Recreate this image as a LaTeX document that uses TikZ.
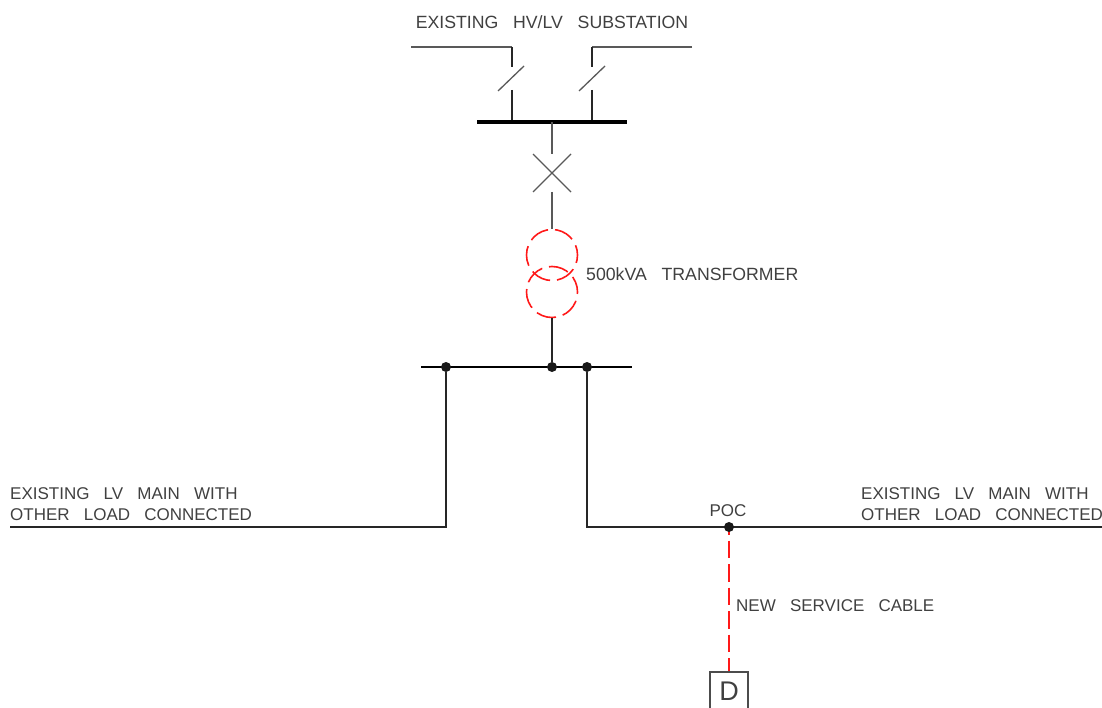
\documentclass[tikz,border=0pt]{standalone}
\usepackage{fontspec}
\setmainfont[WordSpace=3]{Liberation Sans}
\begin{document}
\begin{tikzpicture}[
    x=1pt, y=-1pt,
    wire/.style={draw=black!85, line width=1.5pt},
    blade/.style={draw=black!65, line width=1.3pt},
    newpart/.style={draw=red!90, line width=1.6pt},
    winding/.style={newpart, circle, minimum size=51pt, inner sep=0pt},
    joint/.style={circle, fill=black!90, inner sep=0pt, minimum size=10pt},
    lab/.style={inner sep=0pt, text=black!75, font=\fontsize{17}{17}\selectfont},
    widelab/.style={lab, font=\fontsize{17.7}{17.7}\selectfont}
]
\useasboundingbox (0,0) rectangle (1102,708);
% substation
\node[widelab] (sublabel) at (552,22) {EXISTING HV/LV SUBSTATION};
\coordinate (feedl) at (411,47);
\coordinate (feedlc) at (512,47);
\coordinate (swltop) at (512,67);
\coordinate (swlbot) at (512,90);
\coordinate (busl) at (512,122);
\coordinate (feedr) at (692,47);
\coordinate (feedrc) at (592,47);
\coordinate (swrtop) at (592,67);
\coordinate (swrbot) at (592,90);
\coordinate (busr) at (592,122);
\draw[blade] (feedl) -- (feedlc);
\draw[wire] (feedlc) -- (swltop);
\draw[wire] (swlbot) -- (busl);
\draw[blade] (feedr) -- (feedrc);
\draw[wire] (feedrc) -- (swrtop);
\draw[wire] (swrbot) -- (busr);
\draw[blade] (498,91) -- (524,66);
\draw[blade] (579,91) -- (605,66);
\coordinate (hvbusa) at (477,122);
\coordinate (hvbusb) at (627,122);
\draw[draw=black, line width=4pt] (hvbusa) -- (hvbusb);
% breaker
\coordinate (hvtap) at (552,122);
\coordinate (cbtop) at (552,154);
\coordinate (cbbot) at (552,192);
\draw[blade] (hvtap) -- (cbtop);
\draw[blade] (533,154) -- (571,192);
\draw[blade] (571,154) -- (533,192);
% transformer
\node[winding, dash pattern=on 20pt off 7pt, dash phase=10pt] (txup) at (552,255) {};
\node[winding, dash pattern=on 20pt off 7pt, dash phase=4pt] (txlow) at (552,292) {};
\draw[blade] (cbbot) -- (txup.north);
\node[widelab, anchor=west] (txlabel) at (586,274) {500kVA TRANSFORMER};
% LV board
\coordinate (lvbusa) at (421,367);
\coordinate (lvbusb) at (632,367);
\draw[draw=black, line width=2.2pt] (lvbusa) -- (lvbusb);
\node[joint] (jl) at (446,367) {};
\node[joint] (jm) at (552,367) {};
\node[joint] (jr) at (587,367) {};
\draw[wire] (txlow.south) -- (jm);
% LV mains
\coordinate (mainl) at (10,527);
\coordinate (mainr) at (1102,527);
\draw[wire] (jl) |- (mainl);
\draw[wire] (jr) |- (mainr);
\node[lab, anchor=west] (mainla) at (10,494) {EXISTING LV MAIN WITH};
\node[lab, anchor=west] (mainlb) at (10,515) {OTHER LOAD CONNECTED};
\node[lab, anchor=west] (mainra) at (861,494) {EXISTING LV MAIN WITH};
\node[lab, anchor=west] (mainrb) at (861,515) {OTHER LOAD CONNECTED};
% service
\node[draw=black!70, line width=1.3pt, minimum size=38pt, inner sep=0pt, text=black!75, font=\fontsize{27}{27}\selectfont] (dbox) at (729,691) {D};
\coordinate (poctop) at (729,527);
\draw[newpart, dash pattern=on 17.5pt off 6pt, dash phase=10pt] (poctop) -- (dbox.north);
\node[joint] (poc) at (poctop) {};
\node[lab] (poclabel) at (728,511) {POC};
\node[lab, anchor=west] (cablelabel) at (736,606) {NEW SERVICE CABLE};
\end{tikzpicture}
\end{document}
